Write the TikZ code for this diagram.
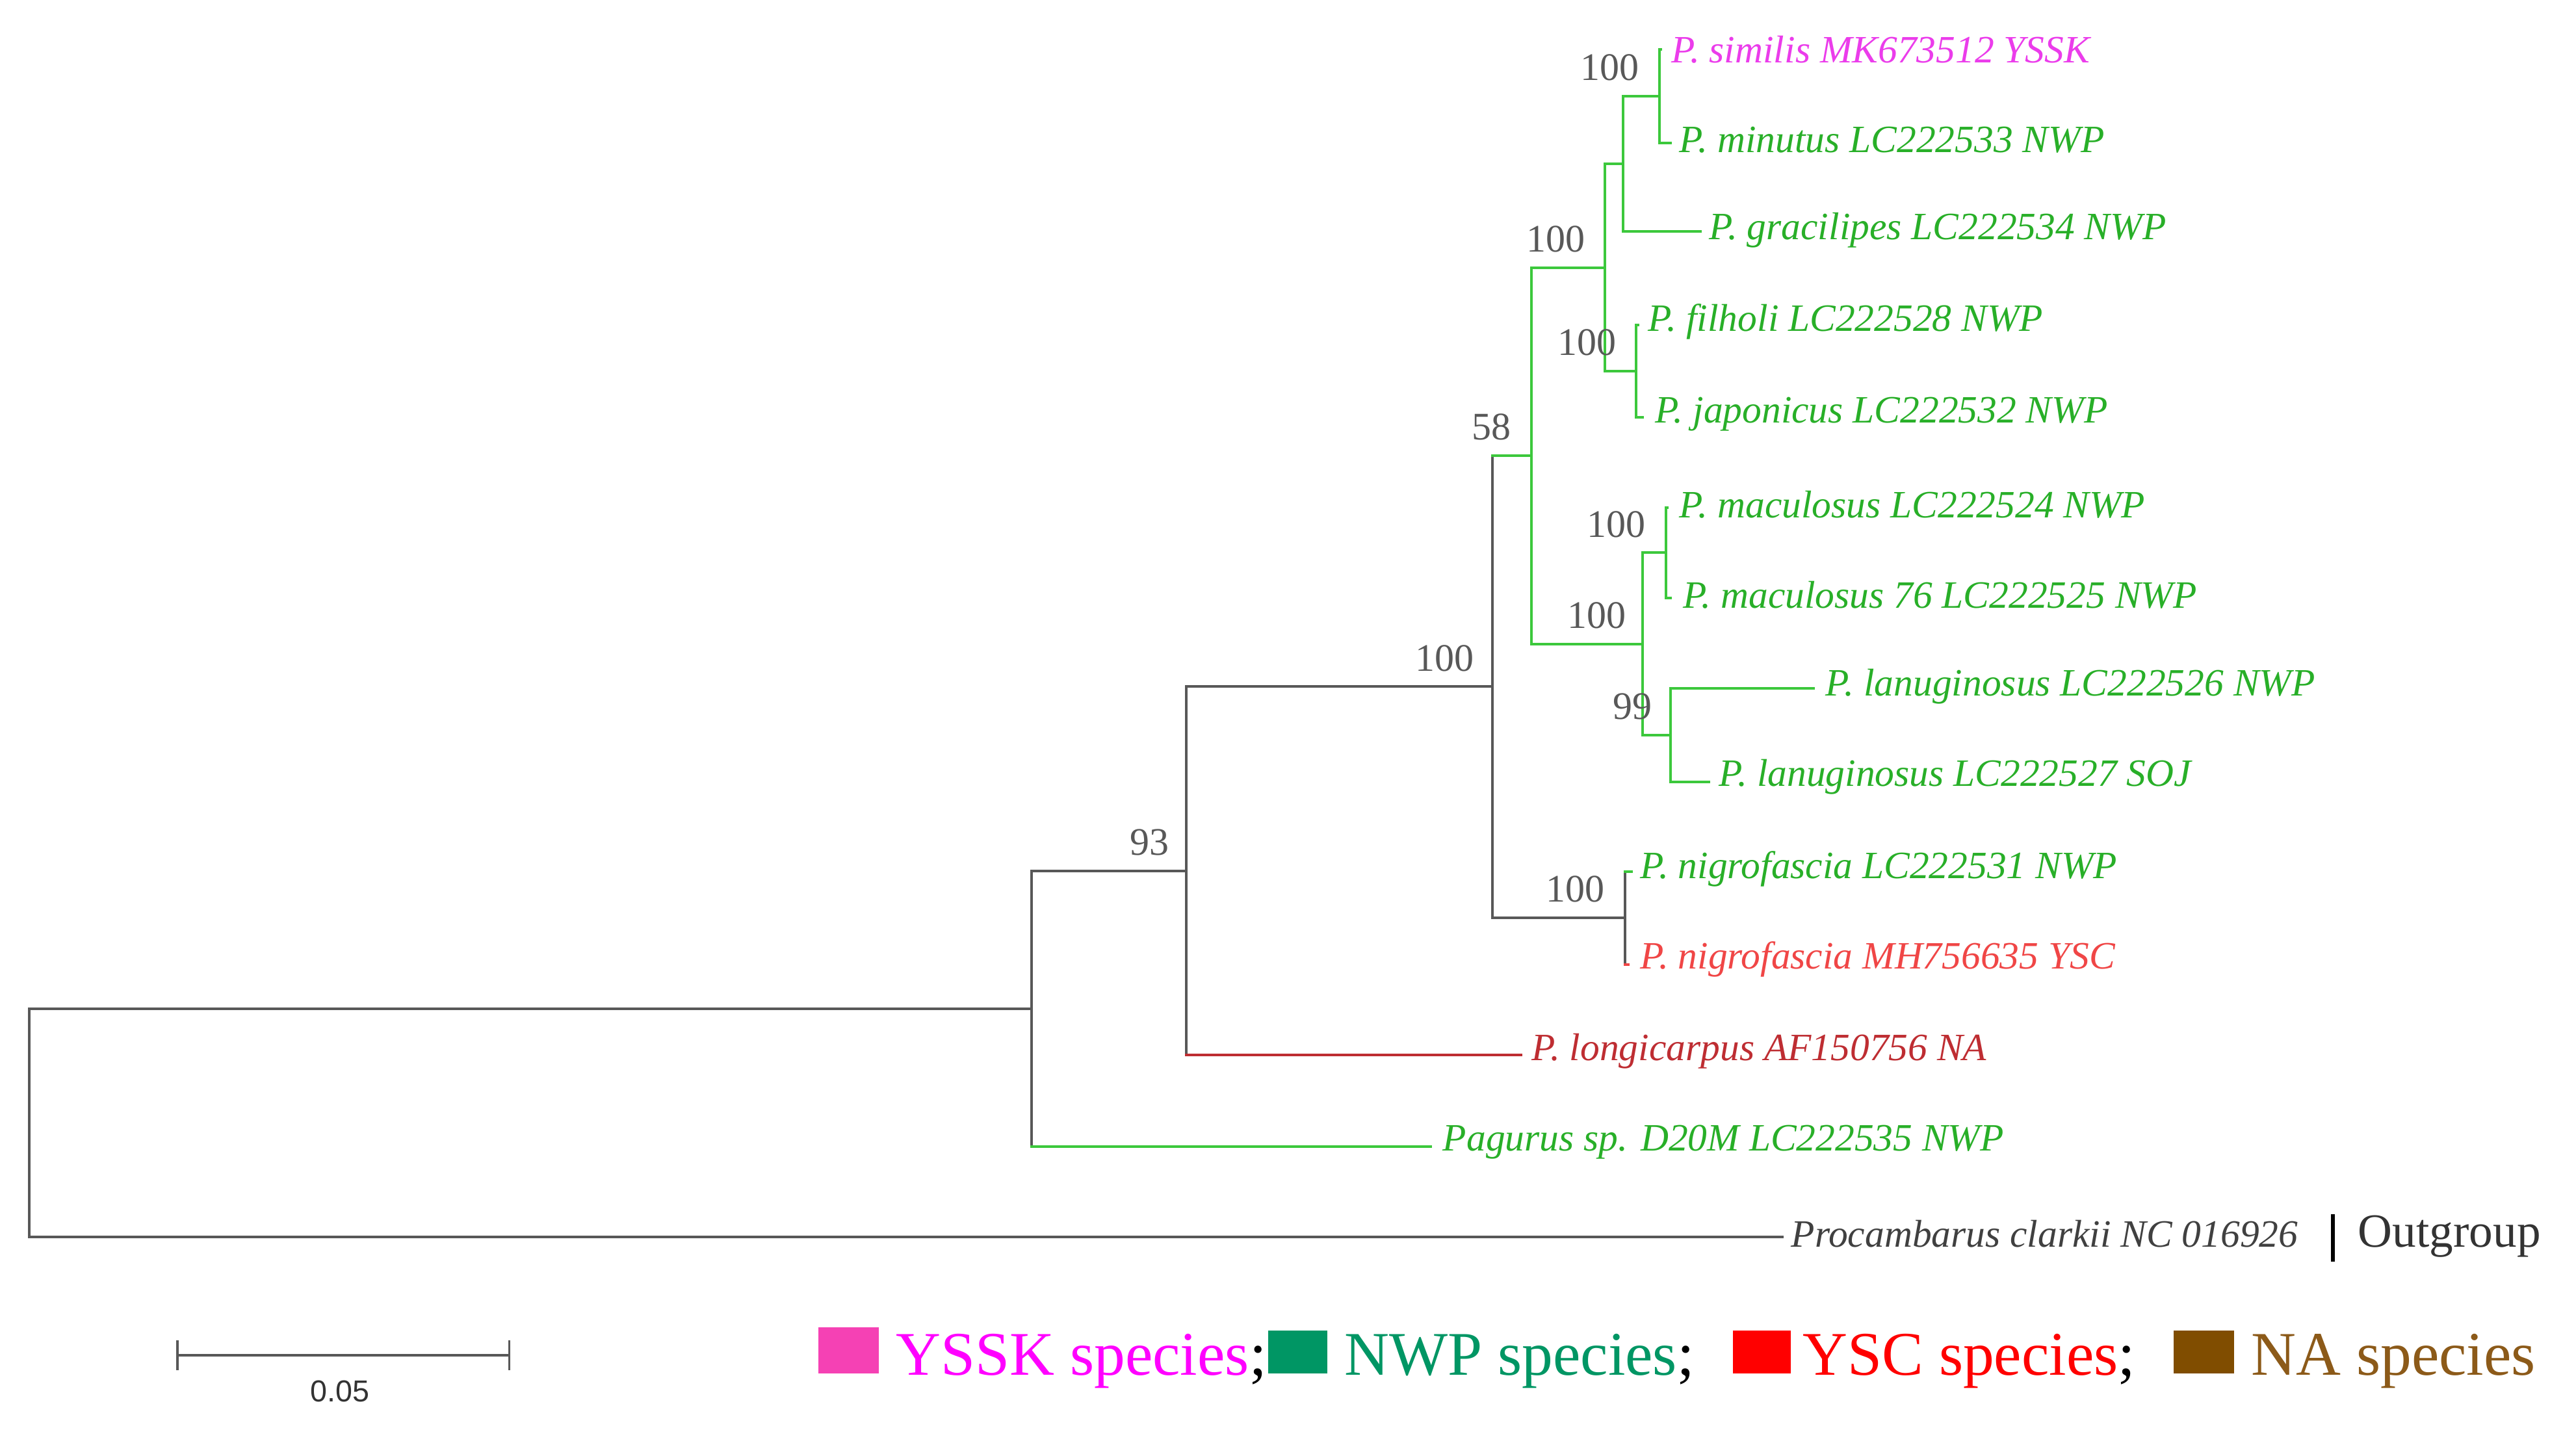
\documentclass[tikz,border=0pt]{standalone}
\usepackage{fontspec}
\setmainfont{Liberation Serif}
\newfontfamily\sansf{Liberation Sans}
\usetikzlibrary{calc}
\definecolor{brgray}{RGB}{88,88,88}
\definecolor{grn}{RGB}{60,200,60}
\definecolor{grntxt}{RGB}{40,175,40}
\definecolor{mag}{RGB}{235,60,235}
\definecolor{redt}{RGB}{240,70,70}
\definecolor{dred}{RGB}{190,45,50}
\definecolor{lgpink}{RGB}{245,65,180}
\definecolor{lgnwp}{RGB}{0,150,100}
\definecolor{lgred}{RGB}{255,0,0}
\definecolor{lgbrown}{RGB}{128,77,0}
\definecolor{lgbrowntxt}{RGB}{140,90,25}
\definecolor{lgmag}{RGB}{255,0,255}
\tikzset{
  br/.style={line width=0.9pt, line cap=rect},
  tiplab/.style={anchor=west, inner sep=0pt, font=\fontsize{13.4}{15}\selectfont\itshape},
  boot/.style={anchor=south east, inner sep=0pt, text=brgray, font=\fontsize{13.5}{15}\selectfont},
  leg/.style={anchor=base west, inner sep=0pt, font=\fontsize{21.5}{26}\selectfont},
}
\newcommand\brn[4]{\draw[br,#3] (#1) -- (#1 |- #2); \draw[br,#4] (#1 |- #2) -- (#2);}
\begin{document}
\begin{tikzpicture}[x=0.02cm,y=-0.02cm]
\fill[white] (0,0) rectangle (1568,870.4);
\useasboundingbox (0,0) rectangle (1568,870.4);

% internal nodes
\coordinate (root) at (18,683.5);
\coordinate (n1) at (628,614);
\coordinate (n2) at (722,530);
\coordinate (n3) at (908.5,418);
\coordinate (n4) at (932,277.3);
\coordinate (n5) at (977,162.9);
\coordinate (n6) at (988,99.75);
\coordinate (n7) at (1010,58.5);
\coordinate (n8) at (996,226);
\coordinate (n9) at (1000,392);
\coordinate (n10) at (1014,336.5);
\coordinate (n11) at (1017,447.5);
\coordinate (n12) at (989,558.75);

% tips
\coordinate (t1) at (1011,30);
\coordinate (t2) at (1017,87);
\coordinate (t3) at (1035,141);
\coordinate (t4) at (997,198);
\coordinate (t5) at (1000,254);
\coordinate (t6) at (1015,309);
\coordinate (t7) at (1017,364);
\coordinate (t8) at (1104,419);
\coordinate (t9) at (1040,476);
\coordinate (t10) at (993,530.5);
\coordinate (t11) at (991,587);
\coordinate (t12) at (926,642);
\coordinate (t13) at (871,698);
\coordinate (t14) at (1085,753);

% branches
\brn{root}{n1}{brgray}{brgray}
\brn{root}{t14}{brgray}{brgray}
\brn{n1}{n2}{brgray}{brgray}
\brn{n1}{t13}{brgray}{grn}
\brn{n2}{n3}{brgray}{brgray}
\brn{n2}{t12}{brgray}{dred}
\brn{n3}{n4}{brgray}{grn}
\brn{n3}{n12}{brgray}{brgray}
\brn{n12}{t10}{brgray}{grn}
\brn{n12}{t11}{brgray}{redt}
\brn{n4}{n5}{grn}{grn}
\brn{n4}{n9}{grn}{grn}
\brn{n5}{n6}{grn}{grn}
\brn{n5}{n8}{grn}{grn}
\brn{n6}{n7}{grn}{grn}
\brn{n6}{t3}{grn}{grn}
\brn{n7}{t1}{grn}{grn}
\brn{n7}{t2}{grn}{grn}
\brn{n8}{t4}{grn}{grn}
\brn{n8}{t5}{grn}{grn}
\brn{n9}{n10}{grn}{grn}
\brn{n9}{n11}{grn}{grn}
\brn{n10}{t6}{grn}{grn}
\brn{n10}{t7}{grn}{grn}
\brn{n11}{t8}{grn}{grn}
\brn{n11}{t9}{grn}{grn}

% tip labels
\node[tiplab,text=mag] (l1) at (1017,30) {P. similis MK673512 YSSK};
\node[tiplab,text=grntxt] (l2) at (1022,85) {P. minutus LC222533 NWP};
\node[tiplab,text=grntxt] (l3) at (1040,140) {P. gracilipes LC222534 NWP};
\node[tiplab,text=grntxt] (l4) at (1003,196) {P. filholi LC222528 NWP};
\node[tiplab,text=grntxt] (l5) at (1007,252) {P. japonicus LC222532 NWP};
\node[tiplab,text=grntxt] (l6) at (1022,307) {P. maculosus LC222524 NWP};
\node[tiplab,text=grntxt] (l7) at (1024,362) {P. maculosus 76 LC222525 NWP};
\node[tiplab,text=grntxt] (l8) at (1111,418) {P. lanuginosus LC222526 NWP};
\node[tiplab,text=grntxt] (l9) at (1046,473) {P. lanuginosus LC222527 SOJ};
\node[tiplab,text=grntxt] (l10) at (998,529) {P. nigrofascia LC222531 NWP};
\node[tiplab,text=redt] (l11) at (998,584) {P. nigrofascia MH756635 YSC};
\node[tiplab,text=dred] (l12) at (932,640) {P. longicarpus AF150756 NA};
\node[tiplab,text=grntxt] (l13) at (878,695) {Pagurus sp. D20M LC222535 NWP};
\node[tiplab,text=black!75] (l14) at (1090,751) {Procambarus clarkii NC 016926};

% bootstrap values
\node[boot] (b2) at ($(n2)+(-10,-9)$) {93};
\node[boot] (b3) at ($(n3)+(-11,-9)$) {100};
\node[boot] (b4) at ($(n4)+(-12,-9)$) {58};
\node[boot] (b5) at ($(n5)+(-12,-9)$) {100};
\node[boot] (b7) at ($(n7)+(-12,-9)$) {100};
\node[boot] (b8) at ($(n8)+(-12,-9)$) {100};
\node[boot] (b9) at ($(n9)+(-10,-9)$) {100};
\node[boot] (b10) at ($(n10)+(-12,-9)$) {100};
\node[boot] (b11) at ($(n11)+(-11,-9)$) {99};
\node[boot] (b12) at ($(n12)+(-12,-9)$) {100};

% outgroup marker
\coordinate (og1) at (1420,739);
\coordinate (og2) at (1420,768);
\draw[line width=1.4pt,black] (og1) -- (og2);
\node[anchor=base west,inner sep=0pt,text=black!80,font=\fontsize{16.5}{19}\selectfont] (og) at (1435,759) {Outgroup};

% scale bar
\coordinate (sb1) at (108,825);
\coordinate (sb2) at (310,825);
\draw[br,brgray,line cap=butt] (sb1) -- (sb2);
\draw[line width=0.8pt,brgray] ($(sb1)+(0,-9)$) -- ($(sb1)+(0,9)$);
\draw[line width=0.8pt,brgray] ($(sb2)+(0,-9)$) -- ($(sb2)+(0,9)$);
\node[inner sep=0pt,text=black!80,font=\sansf\fontsize{10.5}{12}\selectfont] (sbl) at (207,847) {0.05};

% legend
\fill[lgpink] (498,808) rectangle (535,836);
\node[leg,text=lgmag] (g1) at (545,837) {YSSK species\textcolor{black}{;}};
\fill[lgnwp] (772,810) rectangle (808,836);
\node[leg,text=lgnwp] (g2) at (818,837) {NWP species\textcolor{black}{;}};
\fill[lgred] (1055,810) rectangle (1090,836);
\node[leg,text=lgred] (g3) at (1097,837) {YSC species\textcolor{black}{;}};
\fill[lgbrown] (1323,810) rectangle (1360,836);
\node[leg,text=lgbrowntxt] (g4) at (1370,837) {NA species};
\end{tikzpicture}
\end{document}
